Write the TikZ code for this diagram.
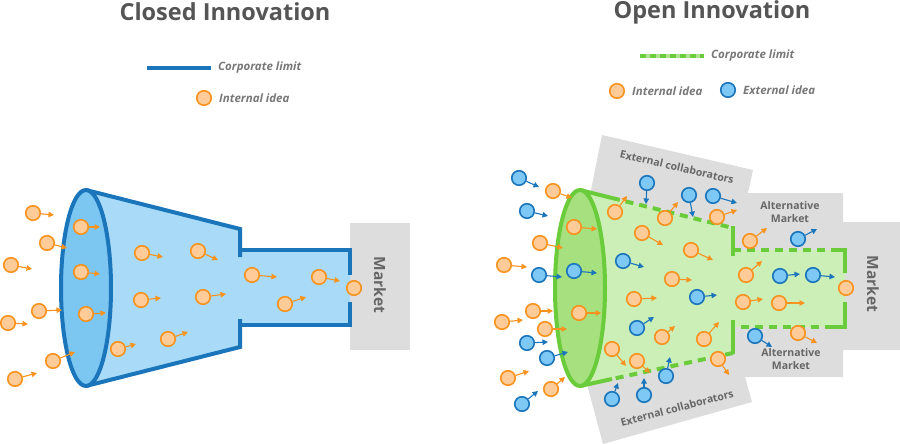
\documentclass[tikz,border=0pt]{standalone}
\usepackage{fontspec}
\setmainfont{Open Sans}
\usetikzlibrary{arrows.meta}

\definecolor{limitblue}{HTML}{1B75BB}
\definecolor{funnelblue}{HTML}{A9DBF8}
\definecolor{mouthblue}{HTML}{7CC6F2}
\definecolor{limitgreen}{HTML}{6ACC3A}
\definecolor{funnelgreen}{HTML}{CCEFB8}
\definecolor{mouthgreen}{HTML}{A6E07F}
\definecolor{ideaorange}{HTML}{F7931E}
\definecolor{ideaorangefill}{HTML}{FFCC99}
\definecolor{ideablue}{HTML}{1B75BB}
\definecolor{ideabluefill}{HTML}{7DC8F4}
\definecolor{zonegray}{HTML}{DDDDDD}
\definecolor{titlegray}{HTML}{555555}
\definecolor{legendgray}{HTML}{777777}
\definecolor{labelgray}{HTML}{666666}

\begin{document}
\begin{tikzpicture}[x=1pt, y=-1pt,
  intidea/.style={circle, draw=ideaorange, fill=ideaorangefill, line width=1.6pt, minimum size=14.5pt, inner sep=0pt},
  extidea/.style={circle, draw=ideablue, fill=ideabluefill, line width=1.6pt, minimum size=14.5pt, inner sep=0pt},
  intflow/.style={draw=ideaorange, line width=1.1pt, -{Triangle[length=5.5pt,width=5.5pt]}},
  extflow/.style={draw=ideablue, line width=1.1pt, -{Triangle[length=5.5pt,width=5.5pt]}},
  closedlimit/.style={draw=limitblue, line width=4pt},
  openlimit/.style={draw=limitgreen, line width=4pt},
  openlimitdash/.style={openlimit, dash pattern=on 8pt off 6pt},
  title/.style={font=\fontsize{23.5}{28}\selectfont\bfseries, text=titlegray},
  legendtext/.style={font=\fontsize{11.5}{13}\selectfont\bfseries\itshape, text=legendgray, anchor=west, inner sep=0pt},
  zonelabel/.style={font=\fontsize{10.5}{13.5}\selectfont\bfseries, text=labelgray, align=center},
  marketlabel/.style={font=\fontsize{15.5}{18}\selectfont\bfseries, text=labelgray, rotate=-90}]
\useasboundingbox (0,0) rectangle (900,444);

% titles
\node[title] (closedtitle) at (225,12) {Closed Innovation};
\node[title] (opentitle) at (712,12) {Open Innovation};

% legend, closed
\coordinate (cl-a) at (147,68);
\coordinate (cl-b) at (211,68);
\draw[closedlimit] (cl-a) -- (cl-b);
\node[legendtext] (cl-text) at (218,68) {Corporate limit};
\node[intidea] (cl-int) at (204,98) {};
\node[legendtext] (cl-inttext) at (219,98) {Internal idea};

% legend, open
\coordinate (ol-a) at (640,56);
\coordinate (ol-b) at (704,56);
\draw[openlimit, draw=limitgreen!55] (ol-a) -- (ol-b);
\draw[openlimit, dash pattern=on 6pt off 4pt] (ol-a) -- (ol-b);
\node[legendtext] (ol-text) at (711,56) {Corporate limit};
\node[intidea] (ol-int) at (617,91) {};
\node[legendtext] (ol-inttext) at (632,91) {Internal idea};
\node[extidea] (ol-ext) at (728,90) {};
\node[legendtext] (ol-exttext) at (743,90) {External idea};

% closed funnel
\fill[zonegray] (350,223) rectangle (410,350);
\fill[funnelblue] (86,190) -- (240,229) -- (240,250) -- (350,250) -- (350,325)
  -- (240,325) -- (240,347) -- (86,386) -- cycle;
\draw[closedlimit] (86,190) -- (240,229) -- (240,257);
\draw[closedlimit] (240,250) -- (350,250) -- (350,275);
\draw[closedlimit] (350,302) -- (350,325) -- (240,325);
\draw[closedlimit] (240,319) -- (240,347) -- (86,386);
\filldraw[closedlimit, fill=mouthblue] (86,288) ellipse [x radius=25, y radius=98];
\node[marketlabel] (closedmarket) at (380,285) {Market};

% open funnel
\fill[zonegray] (590,195) -- (602,135) -- (753,170) -- (748,193) -- (843,193)
  -- (843,222) -- (900,222) -- (900,350) -- (843,350) -- (843,377) -- (745,377)
  -- (752,402) -- (603,444) -- (588,388) -- cycle;
\fill[funnelgreen] (580,190) -- (733,228) -- (733,250) -- (845,250) -- (845,327)
  -- (733,327) -- (733,353) -- (580,386) -- cycle;
\draw[openlimit] (580,190) -- (612,198);
\draw[openlimitdash] (612,198) -- (733,228);
\draw[openlimit] (733,226) -- (733,256);
\draw[openlimitdash] (733,250) -- (833,250);
\draw[openlimit] (831,250) -- (845,250) -- (845,273);
\draw[openlimit] (845,302) -- (845,327) -- (831,327);
\draw[openlimitdash] (833,327) -- (733,327);
\draw[openlimit] (733,320) -- (733,354);
\draw[openlimitdash] (733,353) -- (612,379);
\draw[openlimit] (612,379) -- (580,386);
\filldraw[openlimit, fill=mouthgreen] (580,288) ellipse [x radius=25, y radius=98];
\node[zonelabel, rotate=-13] (collabtop) at (677,167) {External collaborators};
\node[zonelabel, rotate=15] (collabbot) at (677,408) {External collaborators};
\node[zonelabel] (alttop) at (790,212) {Alternative\\Market};
\node[zonelabel] (altbot) at (791,359) {Alternative\\Market};
\node[marketlabel] (openmarket) at (873,284) {Market};

% ideas, closed
\foreach \x/\y/\tx/\ty [count=\i] in {33/213/54/215, 81/227/100/227, 47/243/67/248,
    11/265/32/269, 81/272/100/274, 142/253/163/257, 198/251/218/260, 39/311/62/310,
    8/323/28/324, 86/314/106/313, 141/300/161/298, 203/297/226/294, 252/275/277/277,
    319/277/340/281, 285/304/306/297, 168/339/188/332, 118/349/136/344, 53/361/75/352,
    15/379/37/373}{
  \node[intidea] (ci\i) at (\x,\y) {};
  \coordinate (ci\i-to) at (\tx,\ty);
  \draw[intflow] (ci\i) -- (ci\i-to);
}
\node[intidea] (ci-out) at (354,288) {};

% ideas, open
\foreach \x/\y/\tx/\ty [count=\i] in {553/191/572/198, 574/227/597/229, 540/243/563/248,
    504/265/527/267, 533/311/553/311, 579/313/601/313, 502/322/523/320, 545/329/567/329,
    508/378/529/371, 551/389/565/377, 615/212/627/196, 665/218/678/202, 717/217/737/210,
    642/233/663/245, 691/250/713/260, 672/279/692/280, 634/299/657/298, 662/337/675/326,
    704/339/719/322, 612/349/626/366, 637/361/650/373, 718/359/729/375, 750/241/767/228,
    746/275/762/261, 743/302/763/299, 779/303/805/303, 798/333/817/343}{
  \node[intidea] (oi\i) at (\x,\y) {};
  \coordinate (oi\i-to) at (\tx,\ty);
  \draw[intflow] (oi\i) -- (oi\i-to);
}
\node[intidea] (oi-out) at (846,288) {};
\foreach \x/\y/\tx/\ty [count=\i] in {519/178/539/187, 527/211/548/216, 539/275/562/277,
    574/271/597/273, 527/343/548/342, 547/358/568/352, 522/404/538/391, 647/183/646/204,
    689/195/693/217, 713/196/737/203, 623/261/644/267, 697/297/717/295, 637/328/654/317,
    666/376/670/357, 612/399/618/383, 644/395/644/378, 798/239/817/229, 780/276/800/274,
    813/275/835/277, 755/336/772/347}{
  \node[extidea] (oe\i) at (\x,\y) {};
  \coordinate (oe\i-to) at (\tx,\ty);
  \draw[extflow] (oe\i) -- (oe\i-to);
}
\end{tikzpicture}
\end{document}
